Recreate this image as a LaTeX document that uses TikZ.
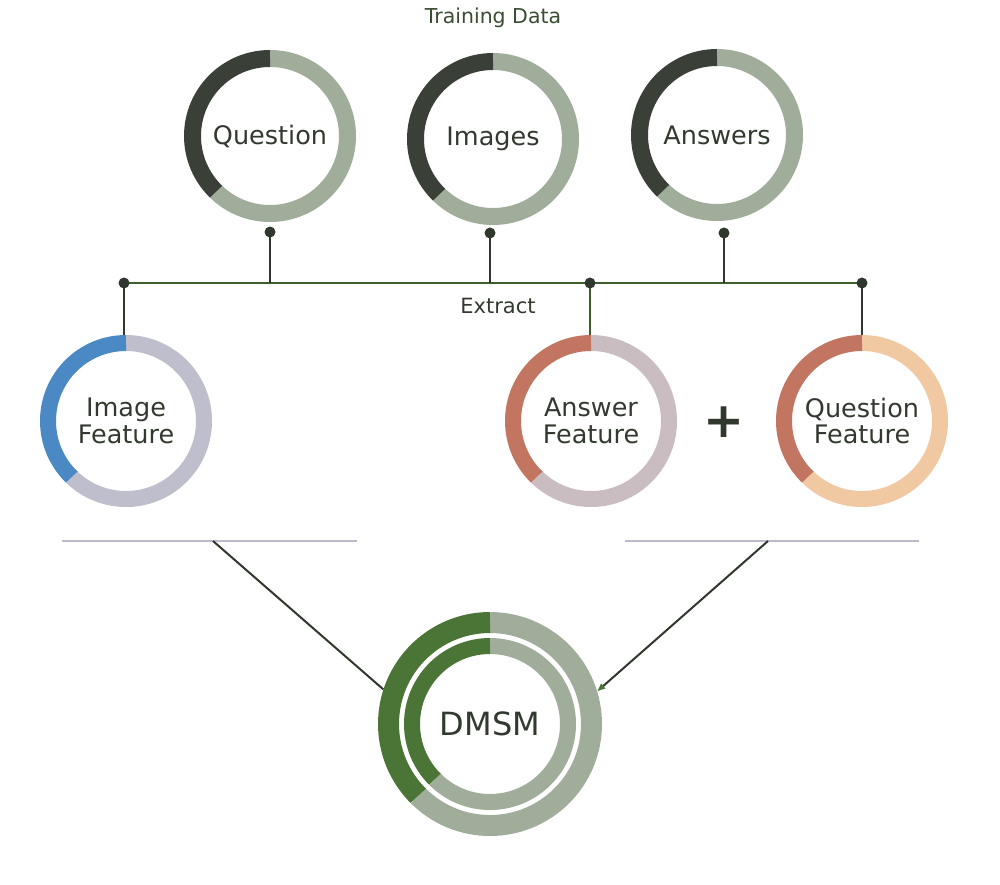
\documentclass[tikz,border=0pt]{standalone}
\usepackage{fontspec}
\setmainfont{DejaVu Sans}
\usetikzlibrary{arrows.meta}
\definecolor{txt}{HTML}{323A2F}
\definecolor{tdtxt}{HTML}{3A4D31}
\definecolor{darkarc}{HTML}{3A4038}
\definecolor{sage}{HTML}{A1AD9B}
\definecolor{dmgreen}{HTML}{4B7536}
\definecolor{bluearc}{HTML}{4A89C3}
\definecolor{lav}{HTML}{BEBECC}
\definecolor{terra}{HTML}{C27661}
\definecolor{speck}{HTML}{CABDC2}
\definecolor{peach}{HTML}{F0C9A3}
\definecolor{busgreen}{HTML}{3E5E2E}
\definecolor{linedark}{HTML}{30372D}
\definecolor{grayline}{HTML}{BDBBCB}
\newcommand\ringarc[6]{\draw[line width=#3pt,#4] ([shift={(#5:#2)}]#1.center) arc[start angle=#5,end angle=#6,radius=#2];}
\begin{document}
\begin{tikzpicture}[x=1pt,y=1pt,
  ringnode/.style={circle,inner sep=0pt,minimum size=#1,align=center,text=txt,font=\fontsize{25.5}{26.5}\selectfont},
  pinline/.style={draw=linedark,line width=2pt},
  busline/.style={draw=busgreen,line width=2pt},
  conn/.style={draw=linedark,line width=2pt},
  grayrule/.style={draw=grayline,line width=2pt},
  pindot/.style={fill=linedark}]
\useasboundingbox (0,0) rectangle (1000,-884);
% title
\node[text=tdtxt,font=\fontsize{20.5}{20.5}\selectfont] (td) at (493,-18) {Training Data};
% top rings
\node[ringnode=172pt] (q) at (270,-136) {Question};
\node[ringnode=172pt] (im) at (493,-139) {Images};
\node[ringnode=172pt] (an) at (717,-135) {Answers};
\foreach \n in {q,im,an}{
  \ringarc{\n}{77.5}{17}{sage}{226}{450}
  \ringarc{\n}{77.5}{17}{darkarc}{90}{226}
}
% feature rings
\node[ringnode=172pt] (imf) at (126,-421) {Image\\Feature};
\node[ringnode=172pt] (anf) at (591,-421) {Answer\\Feature};
\node[ringnode=172pt] (qf) at (862,-421) {Question\\Feature};
\ringarc{imf}{78}{16}{lav}{226}{450}
\ringarc{imf}{78}{16}{bluearc}{90}{226}
\ringarc{anf}{78}{16}{speck}{226}{450}
\ringarc{anf}{78}{16}{terra}{90}{226}
\ringarc{qf}{78}{16}{peach}{226}{450}
\ringarc{qf}{78}{16}{terra}{90}{226}
\node[text=linedark,font=\fontsize{49}{49}\selectfont\bfseries] (plus) at (724,-422) {+};
% pins and bus
\coordinate (qpin) at (270,-232);
\coordinate (impin) at (490,-233);
\coordinate (anpin) at (724,-233);
\coordinate (busL) at (124,-283);
\coordinate (busM) at (590,-283);
\coordinate (busR) at (862,-283);
\draw[busline] (busL) -- (busR);
\draw[pinline] (qpin) -- (qpin |- busL);
\draw[pinline] (impin) -- (impin |- busL);
\draw[pinline] (anpin) -- (anpin |- busL);
\draw[pinline] (busL) -- (busL |- imf.north);
\draw[draw=busgreen,line width=2pt] (busM) -- (busM |- anf.north);
\draw[pinline] (busR) -- (busR |- qf.north);
\foreach \p in {qpin,impin,anpin,busL,busM,busR}{\fill[pindot] (\p) circle (5.5);}
\node[text=txt,font=\fontsize{21}{21}\selectfont] (ex) at (498,-306) {Extract};
% gray rules
\coordinate (gl1) at (62,-541);
\coordinate (gl2) at (357,-541);
\coordinate (gr1) at (625,-541);
\coordinate (gr2) at (919,-541);
\coordinate (lj) at (213,-541);
\coordinate (rj) at (768,-541);
\draw[grayrule] (gl1) -- (gl2);
\draw[grayrule] (gr1) -- (gr2);
% DMSM
\node[ringnode=224pt,font=\fontsize{32}{32}\selectfont] (dm) at (490,-724) {DMSM};
\ringarc{dm}{101.5}{21}{sage}{225}{450}
\ringarc{dm}{101.5}{21}{dmgreen}{90}{225}
\ringarc{dm}{78}{16}{sage}{225}{450}
\ringarc{dm}{78}{16}{dmgreen}{90}{225}
\draw[conn] (lj) -- (dm.162);
\draw[conn,-{Triangle[length=8pt,width=6pt,color=dmgreen]}] (rj) -- (dm.17);
\end{tikzpicture}
\end{document}
